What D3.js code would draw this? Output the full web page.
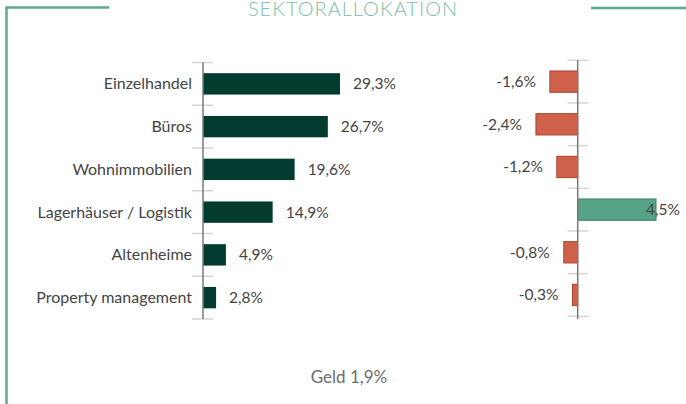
<!DOCTYPE html>
<html>
<head>
<meta charset="utf-8">
<script src="https://cdn.jsdelivr.net/npm/d3@7"></script>
<style>
  body { margin: 0; background: #fff; }
  svg { display: block; font-family: Lato, sans-serif; }
</style>
</head>
<body>
<svg id="chart" width="686" height="404"></svg>
<script>
// data
const categories = ["Einzelhandel", "Büros", "Wohnimmobilien", "Lagerhäuser / Logistik", "Altenheime", "Property management"];
const allocation = [29.3, 26.7, 19.6, 14.9, 4.9, 2.8];
const change = [-1.6, -2.4, -1.2, 4.5, -0.8, -0.3];
const title = "SEKTORALLOKATION";
const footnote = "Geld 1,9%";

// german decimal comma, plain hyphen for negatives
const fmt = v => v.toFixed(1).replace(".", ",") + "%";

const svg = d3.select("#chart");
const frameColor = "#5fa98c";

// frame lines
svg.append("path")
  .attr("d", "M6.5,404 V7.5 H109")
  .attr("fill", "none")
  .attr("stroke", frameColor)
  .attr("stroke-width", 2.5);
svg.append("line")
  .attr("x1", 591).attr("x2", 686)
  .attr("y1", 8).attr("y2", 8)
  .attr("stroke", frameColor)
  .attr("stroke-width", 2.5);

svg.append("text")
  .attr("x", 353).attr("y", 16)
  .attr("text-anchor", "middle")
  .attr("font-size", 20)
  .attr("font-weight", 300)
  .attr("letter-spacing", 1)
  .attr("fill", "#7cc0a5")
  .text(title);

// left chart
const yL = d3.scaleBand().domain(categories).range([62.5, 319]).padding(0.5).paddingOuter(0.25);
const xL = d3.scaleLinear().domain([0, 30]).range([203, 343.25]);

const gL = svg.append("g");
gL.selectAll(".tick")
  .data(d3.range(categories.length + 1))
  .join("line")
  .attr("x1", 192).attr("x2", 213)
  .attr("y1", i => 62.5 + i * yL.step())
  .attr("y2", i => 62.5 + i * yL.step())
  .attr("stroke", "#d4d4d4")
  .attr("stroke-width", 1.5);

gL.selectAll("rect")
  .data(allocation)
  .join("rect")
  .attr("x", xL(0))
  .attr("y", (d, i) => yL(categories[i]))
  .attr("width", d => xL(d) - xL(0))
  .attr("height", yL.bandwidth())
  .attr("fill", "#033b30");

gL.append("line")
  .attr("x1", xL(0)).attr("x2", xL(0))
  .attr("y1", 62.5).attr("y2", 319)
  .attr("stroke", "#7a7a7a")
  .attr("stroke-width", 1.5);

gL.selectAll(".cat")
  .data(categories)
  .join("text")
  .attr("class", "cat")
  .attr("x", 192)
  .attr("y", d => yL(d) + yL.bandwidth() / 2)
  .attr("dy", "0.35em")
  .attr("text-anchor", "end")
  .attr("font-size", 16)
  .attr("fill", "#444")
  .text(d => d);

gL.selectAll(".val")
  .data(allocation)
  .join("text")
  .attr("class", "val")
  .attr("x", d => xL(d) + 13)
  .attr("y", (d, i) => yL(categories[i]) + yL.bandwidth() / 2)
  .attr("dy", "0.35em")
  .attr("font-size", 15.5)
  .attr("fill", "#444")
  .text(fmt);

// right chart
const yR = d3.scaleBand().domain(categories).range([60.3, 316.3]).padding(0.5).paddingOuter(0.25);
const xR = d3.scaleLinear().domain([-2.5, 4.5]).range([534.2, 656]);

const gR = svg.append("g");
gR.selectAll(".tick")
  .data(d3.range(categories.length + 1))
  .join("line")
  .attr("x1", 567.5).attr("x2", 588.5)
  .attr("y1", i => 60.3 + i * yR.step())
  .attr("y2", i => 60.3 + i * yR.step())
  .attr("stroke", "#d4d4d4")
  .attr("stroke-width", 1.5);

gR.selectAll("rect")
  .data(change)
  .join("rect")
  .attr("x", d => xR(Math.min(0, d)))
  .attr("y", (d, i) => yR(categories[i]))
  .attr("width", d => Math.abs(xR(d) - xR(0)))
  .attr("height", yR.bandwidth())
  .attr("fill", d => d < 0 ? "#cf614b" : "#57a386")
  .attr("stroke", d => d < 0 ? "#a9432f" : "#3f7d63")
  .attr("stroke-width", 1);

gR.append("line")
  .attr("x1", xR(0)).attr("x2", xR(0))
  .attr("y1", 60.3).attr("y2", 319)
  .attr("stroke", "#7a7a7a")
  .attr("stroke-width", 1.5);

gR.selectAll(".val")
  .data(change)
  .join("text")
  .attr("class", "val")
  .attr("x", d => d < 0 ? xR(d) - 14 : xR(d) - 10)
  .attr("y", (d, i) => yR(categories[i]) + yR.bandwidth() / 2)
  .attr("dy", "0.35em")
  .attr("text-anchor", d => d < 0 ? "end" : "start")
  .attr("font-size", 15.5)
  .attr("fill", "#444")
  .text(fmt);

svg.append("text")
  .attr("x", 349).attr("y", 383)
  .attr("text-anchor", "middle")
  .attr("font-size", 17)
  .attr("fill", "#6e6e6e")
  .text(footnote);
</script>
</body>
</html>
